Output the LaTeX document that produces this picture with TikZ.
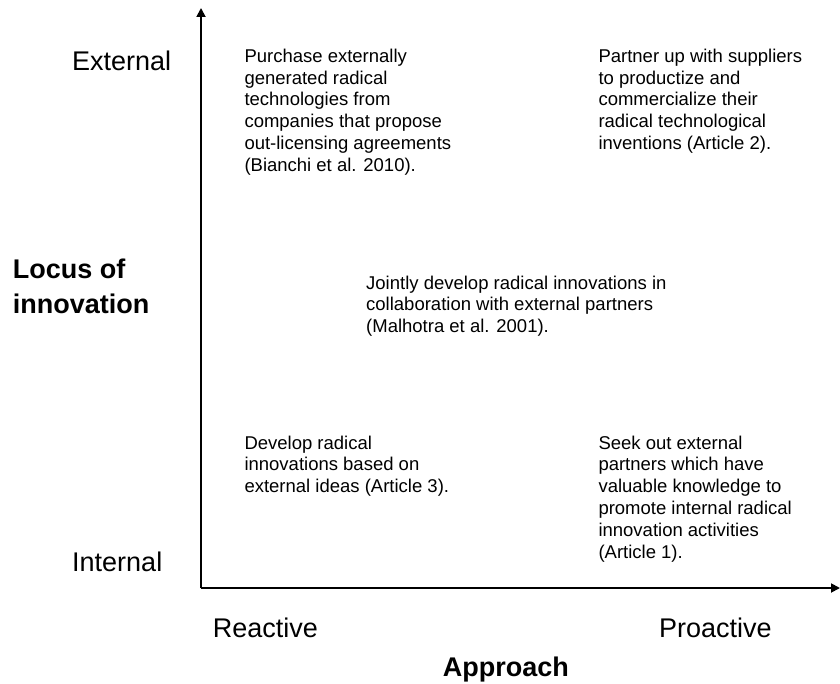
\documentclass[tikz,border=0pt]{standalone}
\usepackage{fontspec}
\setmainfont{Liberation Sans}
\usetikzlibrary{arrows.meta}
\begin{document}
\begin{tikzpicture}[x=1pt,y=-1pt,
  axis/.style={line width=1.8pt,-{Triangle[length=9pt,width=9pt]}},
  body/.style={inner sep=0pt,anchor=base west,align=left,font=\fontsize{18.5}{21.8}\selectfont},
  lab/.style={inner sep=0pt,anchor=base west,font=\fontsize{27}{32}\selectfont},
  blab/.style={inner sep=0pt,anchor=base west,align=left,font=\fontsize{27}{34}\selectfont\bfseries}]
\useasboundingbox (0,0) rectangle (840,684);
\coordinate (O) at (201,588);
\coordinate (xend) at (840,588);
\coordinate (yend) at (201,8);
\draw[axis] (O) -- (xend);
\draw[axis] (O) -- (yend);
\node[lab] (ext) at (72,71) {External};
\node[lab] (int) at (72,571.3) {Internal};
\node[blab] (loc) at (12.7,313) {Locus of\\innovation};
\node[lab] (rea) at (212.7,637.6) {Reactive};
\node[lab] (pro) at (659,637.6) {Proactive};
\node[blab] (app) at (442.7,676) {Approach};
% anchors are at the baseline of each block's last line
\node[body] (tl) at (244.3,171.4) {Purchase externally\\generated radical\\technologies from\\companies that propose\\out-licensing agreements\\(Bianchi et al. 2010).};
\node[body] (tr) at (598.3,149.6) {Partner up with suppliers\\to productize and\\commercialize their\\radical technological\\inventions (Article 2).};
\node[body] (mid) at (366,332.6) {Jointly develop radical innovations in\\collaboration with external partners\\(Malhotra et al. 2001).};
\node[body] (bl) at (244.3,492.6) {Develop radical\\innovations based on\\external ideas (Article 3).};
\node[body] (br) at (598.3,558) {Seek out external\\partners which have\\valuable knowledge to\\promote internal radical\\innovation activities\\(Article 1).};
\end{tikzpicture}
\end{document}
